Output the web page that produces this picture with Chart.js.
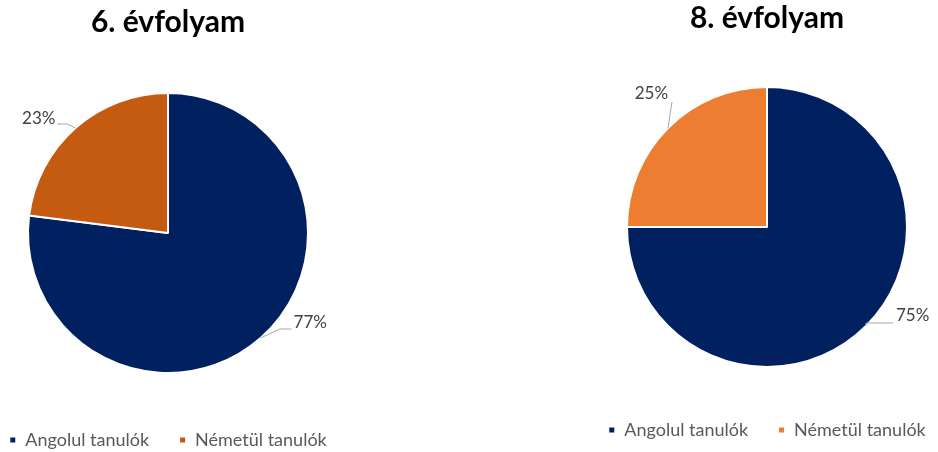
<!DOCTYPE html>
<html lang="hu">
<head>
<meta charset="utf-8">
<script src="https://cdn.jsdelivr.net/npm/chart.js@4"></script>
<style>
  html, body { margin: 0; padding: 0; background: #fff; overflow: hidden; }
  #wrap { position: relative; width: 938px; height: 452px; overflow: hidden; }
  .box { position: absolute; width: 380px; }
</style>
</head>
<body>
<div id="wrap">
  <div class="box" id="boxBal" style="left:-22px; top:0px; height:459px;"><canvas id="chart6"></canvas></div>
  <div class="box" id="boxJobb" style="left:577px; top:-6px; height:455px;"><canvas id="chart8"></canvas></div>
</div>
<script>
const kategoriak = ["Angolul tanulók", "Németül tanulók"];
const ertekek6 = [77, 23];
const ertekek8 = [75, 25];
const cimek = ["6. évfolyam", "8. évfolyam"];

const kek = "#002060";
const narancs6 = "#C55A11";
const narancs8 = "#ED7D31";

// leader line: [elbowDx, elbowDy, tailDx, tailDy, textAlign, textDx, textDy] relative to slice edge
const vezeto6 = [
  [19, -9, 31, -9, "left", 2, -6],
  [-8, -4, -18, -4, "right", -2, -5.5]
];
const vezeto8 = [
  [0, -3, 27, -3, "left", 3, -7],
  [4, -26, 4, -26, "right", -4, -8.5]
];

const cimkePlugin = {
  id: "szazalekCimkek",
  afterDatasetsDraw(chart, args, opts) {
    const ctx = chart.ctx;
    const meta = chart.getDatasetMeta(0);
    const adatok = chart.data.datasets[0].data;
    const osszeg = adatok.reduce((a, b) => a + b, 0);
    ctx.save();
    meta.data.forEach((arc, i) => {
      const p = arc.getProps(["x", "y", "startAngle", "endAngle", "outerRadius"], true);
      const mid = (p.startAngle + p.endAngle) / 2;
      const ex = p.x + Math.cos(mid) * p.outerRadius;
      const ey = p.y + Math.sin(mid) * p.outerRadius;
      const v = opts.vezetok[i];
      ctx.strokeStyle = "#A6A6A6";
      ctx.lineWidth = 1;
      ctx.beginPath();
      ctx.moveTo(ex, ey);
      ctx.lineTo(ex + v[0], ey + v[1]);
      ctx.lineTo(ex + v[2], ey + v[3]);
      ctx.stroke();
      ctx.fillStyle = "#404040";
      ctx.font = "17px Lato, 'Open Sans', sans-serif";
      ctx.textAlign = v[4];
      ctx.textBaseline = "middle";
      const szoveg = Math.round(adatok[i] / osszeg * 100) + "%";
      ctx.fillText(szoveg, ex + v[2] + v[5], ey + v[3] + v[6]);
    });
    ctx.restore();
  }
};

function rajzolKor(canvasId, cim, ertekek, szinek, vezetok, cimFelso, cimAlso) {
  new Chart(document.getElementById(canvasId), {
    type: "pie",
    data: {
      labels: kategoriak,
      datasets: [{
        data: ertekek,
        backgroundColor: szinek,
        borderColor: "#ffffff",
        borderWidth: 2
      }]
    },
    options: {
      responsive: true,
      maintainAspectRatio: false,
      animation: false,
      radius: 140,
      layout: { padding: 0 },
      plugins: {
        title: {
          display: true,
          text: cim,
          color: "#000000",
          font: { family: "Lato, 'Open Sans', sans-serif", size: 30, weight: "bold" },
          padding: { top: cimFelso, bottom: cimAlso }
        },
        legend: {
          position: "bottom",
          labels: {
            boxWidth: 7,
            boxHeight: 7,
            padding: 30,
            color: "#595959",
            font: { family: "Lato, 'Open Sans', sans-serif", size: 18 }
          }
        },
        tooltip: { enabled: false },
        szazalekCimkek: { vezetok: vezetok }
      }
    },
    plugins: [cimkePlugin]
  });
}

rajzolKor("chart6", cimek[0], ertekek6, [kek, narancs6], vezeto6, 4, 25);
rajzolKor("chart8", cimek[1], ertekek8, [kek, narancs8], vezeto8, 6, 27);
</script>
</body>
</html>
